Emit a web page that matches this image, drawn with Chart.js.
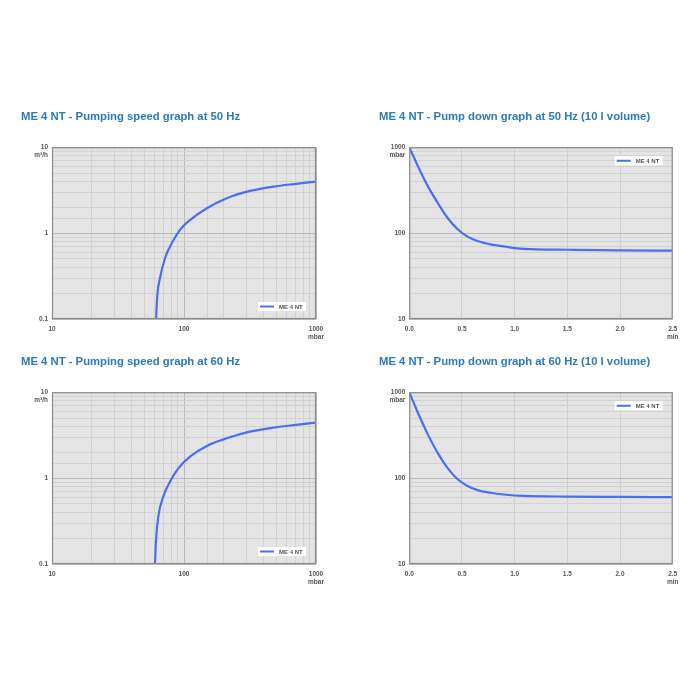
<!DOCTYPE html>
<html>
<head>
<meta charset="utf-8">
<script src="https://cdn.jsdelivr.net/npm/chart.js@4.4.0/dist/chart.umd.min.js"></script>
<style>
  body { margin: 0; background: #fff; }
  .box { position: absolute; }
</style>
</head>
<body>
<div class="box" style="left:21px;top:100px"><canvas id="speed50" width="315" height="245"></canvas></div>
<div class="box" style="left:379px;top:100px"><canvas id="down50" width="311" height="245"></canvas></div>
<div class="box" style="left:21px;top:345px"><canvas id="speed60" width="315" height="245"></canvas></div>
<div class="box" style="left:379px;top:345px"><canvas id="down60" width="311" height="245"></canvas></div>
<script>
const seriesName = 'ME 4 NT';

// pumping speed at 50 Hz: pressure (mbar) -> speed (m³/h)
const speed50Pressure = [61.4, 62.8, 65.8, 71.8, 80.7, 93.3, 111, 149, 211, 316, 475, 680, 1000];
const speed50Flow = [0.1, 0.19, 0.3, 0.51, 0.76, 1.09, 1.42, 1.95, 2.55, 3.1, 3.48, 3.73, 3.98];

// pumping speed at 60 Hz
const speed60Pressure = [60.3, 61.4, 63.9, 69.7, 78.3, 90.6, 111, 149, 211, 316, 475, 680, 1000];
const speed60Flow = [0.1, 0.19, 0.36, 0.61, 0.91, 1.3, 1.78, 2.37, 2.91, 3.48, 3.87, 4.14, 4.43];

// pump down of 10 l volume: time (min) -> pressure (mbar)
const downTime = [0, 0.084, 0.178, 0.272, 0.366, 0.459, 0.553, 0.647, 0.772, 0.897, 1.084, 1.5, 2.0, 2.5];
const down50Pressure = [1000, 595, 348, 223, 149, 111, 91, 81, 74, 70, 65.5, 64, 63, 62.5];
const down60Pressure = [1000, 569, 319, 194, 130, 97, 81, 72.5, 67.5, 64.5, 62, 61, 60.5, 60];

// axis tick labels
const speedXLabels = ['10', '100', ['1000', 'mbar']];
const speedYLabels = ['0.1', '1', '10'];
const downXLabels = ['0.0', '0.5', '1.0', '1.5', '2.0', ['2.5', 'min']];
const downYLabels = ['10', '100', '1000'];

const titleColor = '#2b7bb9';
const lineColor = '#4b6ef0';
const tickFont = { family: "'Liberation Sans Narrow', 'Liberation Sans', sans-serif", size: 6.5, weight: 'bold', lineHeight: 1.3 };
const tickColor = '#555';

function isDecade(v) {
    const lg = Math.log10(v);
    return Math.abs(lg - Math.round(lg)) < 1e-6;
}

// grey plot background, frame, unit under the top y label, boxed legend
const decor = {
    id: 'decor',
    beforeDraw(chart) {
        const { ctx, chartArea: a } = chart;
        ctx.save();
        ctx.fillStyle = '#e4e4e4';
        ctx.fillRect(a.left, a.top, a.width, a.height);
        ctx.restore();
    },
    afterDraw(chart, args, opts) {
        const { ctx, chartArea: a } = chart;
        ctx.save();
        ctx.strokeStyle = '#8c8c8c';
        ctx.lineWidth = 1.2;
        ctx.strokeRect(a.left + 0.5, a.top + 0.5, a.width - 1, a.height - 1);

        ctx.font = 'bold 6.5px ' + tickFont.family;
        ctx.fillStyle = tickColor;
        ctx.textAlign = 'right';
        ctx.textBaseline = 'middle';
        ctx.fillText(opts.yUnit, a.left - 4, a.top + 8);

        const w = 48, h = 9;
        const x = a.right - 10 - w;
        const y = opts.legendTop ? a.top + 9 : a.bottom - 8 - h;
        ctx.fillStyle = '#fff';
        ctx.fillRect(x, y, w, h);
        ctx.strokeStyle = lineColor;
        ctx.lineWidth = 2;
        ctx.beginPath();
        ctx.moveTo(x + 2, y + h / 2);
        ctx.lineTo(x + 16, y + h / 2);
        ctx.stroke();
        ctx.fillStyle = tickColor;
        ctx.textAlign = 'left';
        ctx.font = 'bold 6px ' + tickFont.family;
        ctx.fillText(chart.data.datasets[0].label, x + 21, y + h / 2 + 0.5);
        ctx.restore();
    }
};

function makeChart(id, cfg) {
    return new Chart(document.getElementById(id), {
        type: 'line',
        data: {
            datasets: [{
                label: seriesName,
                data: cfg.xs.map((v, i) => ({ x: v, y: cfg.ys[i] })),
                borderColor: lineColor,
                borderWidth: 2.2,
                pointRadius: 0,
                cubicInterpolationMode: 'monotone',
                fill: false
            }]
        },
        options: {
            responsive: false,
            animation: false,
            layout: { padding: { right: cfg.padRight } },
            plugins: {
                legend: { display: false },
                tooltip: { enabled: false },
                title: {
                    display: true,
                    text: cfg.title,
                    align: 'start',
                    color: titleColor,
                    font: { family: "'Liberation Sans', Arial, sans-serif", size: 11.3, weight: 'bold', lineHeight: 1.2 },
                    padding: { top: 10.2, bottom: 23.5 }
                },
                decor: { yUnit: cfg.yUnit, legendTop: cfg.legendTop }
            },
            scales: {
                x: cfg.xScale,
                y: cfg.yScale
            }
        },
        plugins: [decor]
    });
}

function logAxis(min, max, labels, size, isX) {
    return {
        type: 'logarithmic',
        min: min,
        max: max,
        afterFit: s => { if (isX) s.height = size; else s.width = size; },
        border: { display: false },
        grid: {
            drawTicks: false,
            color: ctx => (ctx.tick && isDecade(ctx.tick.value)) ? '#b9b9b9' : '#d2d2d2'
        },
        ticks: {
            autoSkip: false,
            maxRotation: 0,
            padding: isX ? 6 : 4,
            font: tickFont,
            color: tickColor,
            callback: v => {
                if (!isDecade(v)) return '';
                const k = Math.round(Math.log10(v) - Math.log10(min));
                return labels[k];
            }
        }
    };
}

function timeAxis() {
    return {
        type: 'linear',
        min: 0,
        max: 2.5,
        afterFit: s => { s.height = 26; },
        border: { display: false },
        grid: { drawTicks: false, color: '#cfcfcf' },
        ticks: {
            stepSize: 0.5,
            autoSkip: false,
            maxRotation: 0,
            padding: 6,
            font: tickFont,
            color: tickColor,
            callback: v => downXLabels[Math.round(v / 0.5)]
        }
    };
}

makeChart('speed50', {
    title: 'ME 4 NT - Pumping speed graph at 50 Hz',
    xs: speed50Pressure, ys: speed50Flow,
    padRight: 20, yUnit: 'm³/h', legendTop: false,
    xScale: logAxis(10, 1000, speedXLabels, 26, true),
    yScale: logAxis(0.1, 10, speedYLabels, 31, false)
});

makeChart('down50', {
    title: 'ME 4 NT - Pump down graph at 50 Hz (10 l volume)',
    xs: downTime, ys: down50Pressure,
    padRight: 17.3, yUnit: 'mbar', legendTop: true,
    xScale: timeAxis(),
    yScale: logAxis(10, 1000, downYLabels, 30.3, false)
});

makeChart('speed60', {
    title: 'ME 4 NT - Pumping speed graph at 60 Hz',
    xs: speed60Pressure, ys: speed60Flow,
    padRight: 20, yUnit: 'm³/h', legendTop: false,
    xScale: logAxis(10, 1000, speedXLabels, 26, true),
    yScale: logAxis(0.1, 10, speedYLabels, 31, false)
});

makeChart('down60', {
    title: 'ME 4 NT - Pump down graph at 60 Hz (10 l volume)',
    xs: downTime, ys: down60Pressure,
    padRight: 17.3, yUnit: 'mbar', legendTop: true,
    xScale: timeAxis(),
    yScale: logAxis(10, 1000, downYLabels, 30.3, false)
});
</script>
</body>
</html>
